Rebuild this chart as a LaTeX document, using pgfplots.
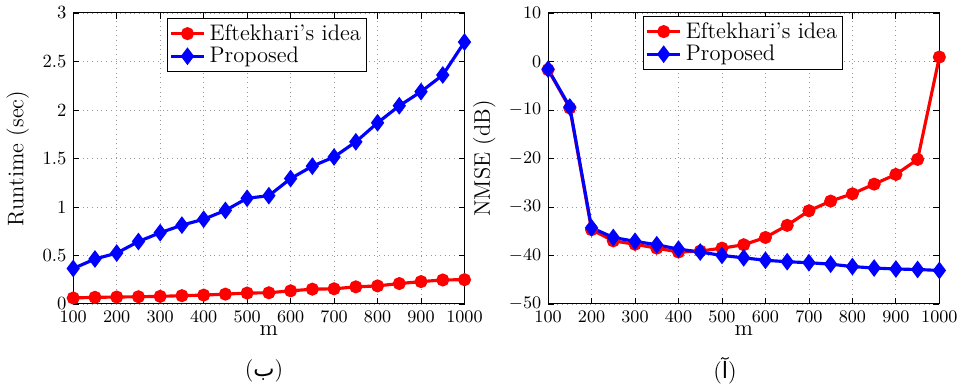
\documentclass[border=0pt]{standalone}
\usepackage{pgfplots}
\pgfplotsset{compat=1.18}
\usepackage{fontspec}
\newfontfamily\arabicfont[Script=Arabic]{DejaVu Sans}
\pgfplotstableread{
m eft prop
100 0.061 0.365
150 0.068 0.463
200 0.071 0.524
250 0.074 0.643
300 0.078 0.734
350 0.085 0.812
400 0.091 0.873
450 0.101 0.964
500 0.112 1.089
550 0.115 1.116
600 0.135 1.292
650 0.152 1.420
700 0.156 1.515
750 0.176 1.671
800 0.186 1.867
850 0.210 2.043
900 0.230 2.188
950 0.247 2.360
1000 0.250 2.700
}\runtime
\pgfplotstableread{
m eft prop
100 -1.7 -1.6
150 -9.6 -9.4
200 -34.7 -34.3
250 -37.0 -36.3
300 -37.7 -37.1
350 -38.5 -37.8
400 -39.3 -38.7
450 -39.1 -39.3
500 -38.5 -40.0
550 -37.8 -40.5
600 -36.3 -41.0
650 -33.8 -41.3
700 -30.8 -41.5
750 -28.8 -41.8
800 -27.3 -42.3
850 -25.3 -42.6
900 -23.3 -42.8
950 -20.2 -42.9
1000 0.9 -43.1
}\nmse
\pgfplotsset{
  myaxis/.style={
    scale only axis,
    width=199bp, height=148bp,
    xmin=100, xmax=1000,
    xtick={100,200,...,1000},
    grid=major,
    major grid style={dotted, gray!80, line width=0.4pt},
    axis line style={line width=0.5pt},
    tick align=inside,
    major tick length=3bp,
    tick style={black, line width=0.4pt},
    ticklabel style={font=\fontsize{9.5}{11}\selectfont},
    label style={font=\fontsize{11.5}{13}\selectfont},
    xlabel={m},
    xlabel style={yshift=5bp},
    legend style={draw=black, line width=0.5pt, font=\fontsize{11.5}{11.5}\selectfont,
      inner sep=1pt, row sep=-2pt, cells={anchor=west}},
    legend cell align=left,
    legend image post style={line width=1.6bp},
    scaled ticks=false,
    /pgf/number format/fixed,
    /pgf/number format/1000 sep={},
  },
  eftline/.style={red, line width=1.6bp, mark=*, mark size=2.5bp, mark options={fill=red, solid}},
  propline/.style={blue, line width=1.6bp, mark=diamond*, mark size=3.2bp, mark options={fill=blue, solid}},
}
\begin{document}
\begin{tikzpicture}
\begin{axis}[myaxis, at={(0,0)}, name=L,
  ymin=0, ymax=3, ytick={0,0.5,...,3},
  yticklabels={0,0.5,1,1.5,2,2.5,3},
  ylabel={Runtime (sec)},
  legend style={at={(rel axis cs:0.239,0.983)}, anchor=north west},
]
\addplot[eftline] table[x=m, y=eft] {\runtime};
\addplot[propline] table[x=m, y=prop] {\runtime};
\legend{Eftekhari's idea, Proposed}
\end{axis}
\begin{axis}[myaxis, at={(241.5bp,0)}, name=R,
  ymin=-50, ymax=10, ytick={-50,-40,...,10},
  ylabel={NMSE (dB)},
  legend style={at={(rel axis cs:0.2425,0.99)}, anchor=north west},
]
\addplot[eftline] table[x=m, y=eft] {\nmse};
\addplot[propline] table[x=m, y=prop] {\nmse};
\legend{Eftekhari's idea, Proposed}
\end{axis}
\node[font=\fontsize{11.5}{13}\selectfont] at ([xshift=97bp, yshift=-34bp]L.south west) {(\arabicfont ب\normalfont)};
\node[font=\fontsize{11.5}{13}\selectfont] at ([xshift=90bp, yshift=-34bp]R.south west) {(\arabicfont آ\normalfont)};
\end{tikzpicture}
\end{document}
